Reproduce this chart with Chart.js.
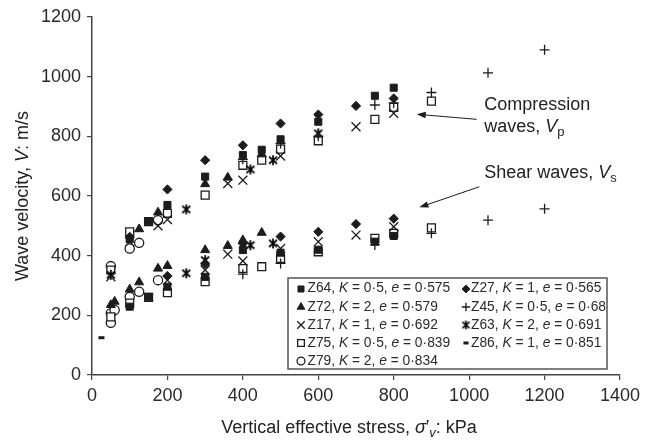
<!DOCTYPE html>
<html>
<head>
<meta charset="utf-8">
<script src="https://cdn.jsdelivr.net/npm/chart.js@4.4.1/dist/chart.umd.min.js"></script>
<style>
  html, body { margin: 0; padding: 0; background: #fff; }
  #wrap { width: 658px; height: 441px; }
</style>
</head>
<body>
<div id="wrap"><canvas id="c" width="658" height="441"></canvas></div>
<script>
// ---------------- DATA (stress kPa, velocity m/s) ----------------
const xTicks = [0, 200, 400, 600, 800, 1000, 1200, 1400];
const yTicks = [0, 200, 400, 600, 800, 1000, 1200];

const names   = ['Z64', 'Z27', 'Z72', 'Z45', 'Z17', 'Z63', 'Z75', 'Z86', 'Z79'];
const kValues = ['0·5', '1', '2', '0·5', '1', '2', '0·5', '1', '2'];
const eValues = ['0·575', '0·565', '0·579', '0·68', '0·692', '0·691', '0·839', '0·851', '0·834'];

const Z64 = [[100,455],[150,516],[200,570],[300,665],[400,737],[450,755],[500,790],[600,849],[750,936],[800,963],
             [100,229],[150,262],[200,296],[300,329],[400,419],[500,410],[600,420],[750,447],[800,466]];
const Z27 = [[100,463],[200,622],[300,720],[400,770],[500,843],[600,873],[700,902],[800,927],
             [200,332],[300,372],[400,441],[500,464],[600,480],[700,506],[800,524]];
const Z72 = [[125,489],[175,545],[300,640],[360,662],[450,740],
             [50,235],[60,246],[100,287],[125,311],[175,357],[200,366],[300,419],[360,433],[400,452],[450,477]];
const Z45 = [[400,723],[500,776],[600,800],[750,905],[800,912],[900,947],[1050,1013],[1200,1090],
             [400,338],[500,374],[750,436],[900,475],[1050,519],[1200,557]];
const Z17 = [[50,329],[100,446],[175,500],[200,521],[360,642],[400,653],[500,734],[700,832],[800,877],
             [200,318],[300,352],[360,405],[400,382],[500,424],[600,447],[700,469],[800,497]];
const Z63 = [[50,336],[250,555],[420,689],[480,720],[600,810],
             [250,341],[300,385],[420,435],[480,441]];
const Z75 = [[50,352],[100,480],[150,514],[200,542],[300,603],[400,703],[450,720],[500,757],[600,785],[750,857],[800,897],[900,918],
             [50,195],[100,241],[150,260],[200,276],[300,313],[400,357],[450,363],[500,391],[600,413],[750,458],[800,475],[900,493]];
const Z86 = [[25,125]];
const Z79 = [[50,365],[100,424],[125,443],[175,519],
             [50,175],[50,207],[60,218],[100,262],[125,279],[175,318]];

// annotation anchors in data units
const compArrow  = [[1020, 857], [861, 874]];
const shearArrow = [[1027, 631], [868, 562]];
const compLabel  = [1040, 905, 831];
const shearLabel = [1040, 677];

// ---------------- STYLES ----------------
const INK = '#1c1c1c';
const FONT = '"Liberation Sans", Arial, sans-serif';

// six-armed asterisk marker (× plus vertical stroke)
function makeAsterisk(size, lw) {
  const c = document.createElement('canvas');
  c.width = size; c.height = size;
  const g = c.getContext('2d');
  const m = size / 2, r = size / 2 - 1;
  g.strokeStyle = '#000'; g.lineWidth = lw; g.lineCap = 'butt';
  g.beginPath();
  g.moveTo(m - r * 0.8, m - r * 0.7); g.lineTo(m + r * 0.8, m + r * 0.7);
  g.moveTo(m + r * 0.8, m - r * 0.7); g.lineTo(m - r * 0.8, m + r * 0.7);
  g.moveTo(m, m - r); g.lineTo(m, m + r);
  g.stroke();
  return c;
}
const asterisk = makeAsterisk(12, 1.7);
const asteriskSmall = makeAsterisk(11, 1.6);

const seriesData = [Z64, Z27, Z72, Z45, Z17, Z63, Z75, Z86, Z79];
const styles = [
  { ps: 'rect',     r: 5,   fill: true,  bw: 1 },
  { ps: 'rectRot',  r: 4.6, fill: true,  bw: 1 },
  { ps: 'triangle', r: 5.2, fill: true,  bw: 1 },
  { ps: 'cross',    r: 5,   fill: false, bw: 1.3 },
  { ps: 'crossRot', r: 6.3, fill: false, bw: 1.3 },
  { ps: asterisk,   r: 6,   fill: false, bw: 1.2 },
  { ps: 'rect',     r: 5.6, fill: false, bw: 1.3 },
  { ps: 'line',     r: 3,   fill: false, bw: 3 },
  { ps: 'circle',   r: 4.6, fill: false, bw: 1.3 }
];

const datasets = names.map((n, i) => ({
  label: n,
  data: seriesData[i].map(p => ({ x: p[0], y: p[1] })),
  showLine: false,
  pointStyle: styles[i].ps,
  pointRadius: styles[i].r,
  pointBorderWidth: styles[i].bw,
  borderColor: INK,
  backgroundColor: styles[i].fill ? INK : '#fff',
  order: i
}));

// rich text helper
function richWidth(ctx, parts, size) {
  let w = 0;
  parts.forEach(p => {
    const s = p.sub ? size * 0.72 : size;
    ctx.font = (p.it ? 'italic ' : '') + s + 'px ' + FONT;
    w += ctx.measureText(p.t).width;
  });
  return w;
}
function drawRich(ctx, parts, x, y, size, color) {
  ctx.save();
  ctx.fillStyle = color;
  ctx.textBaseline = 'middle';
  ctx.textAlign = 'left';
  let cx = x;
  parts.forEach(p => {
    const s = p.sub ? size * 0.72 : size;
    ctx.font = (p.it ? 'italic ' : '') + s + 'px ' + FONT;
    ctx.fillText(p.t, cx, p.sub ? y + size * 0.3 : y);
    cx += ctx.measureText(p.t).width;
  });
  ctx.restore();
}
function arrow(ctx, x1, y1, x2, y2) {
  const a = Math.atan2(y2 - y1, x2 - x1);
  const L = 9, W = 3.2;
  ctx.save();
  ctx.strokeStyle = INK; ctx.fillStyle = INK; ctx.lineWidth = 1;
  ctx.beginPath();
  ctx.moveTo(x1, y1);
  ctx.lineTo(x2 - Math.cos(a) * L * 0.8, y2 - Math.sin(a) * L * 0.8);
  ctx.stroke();
  ctx.beginPath();
  ctx.moveTo(x2, y2);
  ctx.lineTo(x2 - Math.cos(a) * L + Math.sin(a) * W, y2 - Math.sin(a) * L - Math.cos(a) * W);
  ctx.lineTo(x2 - Math.cos(a) * L - Math.sin(a) * W, y2 - Math.sin(a) * L + Math.cos(a) * W);
  ctx.closePath();
  ctx.fill();
  ctx.restore();
}

const decor = {
  id: 'decor',
  afterDraw(chart) {
    const ctx = chart.ctx;
    const xs = chart.scales.x, ys = chart.scales.y, ca = chart.chartArea;
    const P = (v) => [xs.getPixelForValue(v[0]), ys.getPixelForValue(v[1])];

    // axis titles
    const xt = [{ t: 'Vertical effective stress, ' }, { t: 'σ', it: true }, { t: '′' }, { t: 'v', it: true, sub: true }, { t: ': kPa' }];
    const xw = richWidth(ctx, xt, 18);
    drawRich(ctx, xt, 349 - xw / 2, 428, 18, '#222');
    const yt = [{ t: 'Wave velocity, ' }, { t: 'V', it: true }, { t: ': m/s' }];
    const yw = richWidth(ctx, yt, 18);
    ctx.save();
    ctx.translate(23, (ca.top + ca.bottom) / 2);
    ctx.rotate(-Math.PI / 2);
    drawRich(ctx, yt, -yw / 2, 0, 18, '#222');
    ctx.restore();

    // annotations
    const cl = P([compLabel[0], compLabel[1]]);
    const cl2 = ys.getPixelForValue(compLabel[2]);
    drawRich(ctx, [{ t: 'Compression' }], cl[0], cl[1], 18, '#222');
    drawRich(ctx, [{ t: 'waves, ' }, { t: 'V', it: true }, { t: 'p', sub: true }], cl[0], cl2, 18, '#222');
    const sl = P(shearLabel);
    drawRich(ctx, [{ t: 'Shear waves, ' }, { t: 'V', it: true }, { t: 's', sub: true }], sl[0], sl[1], 18, '#222');
    let a = P(compArrow[0]), b = P(compArrow[1]);
    arrow(ctx, a[0], a[1], b[0], b[1]);
    a = P(shearArrow[0]); b = P(shearArrow[1]);
    arrow(ctx, a[0], a[1], b[0], b[1]);

    // legend box
    const bx = 288, by = 278, bw = 319, bh = 91;
    ctx.save();
    ctx.fillStyle = '#fff';
    ctx.fillRect(bx, by, bw, bh);
    ctx.strokeStyle = '#555';
    ctx.lineWidth = 1.5;
    ctx.strokeRect(bx, by, bw, bh);
    ctx.restore();
    const colMarker = [301, 466], colText = [307.5, 471];
    const rowY = (r) => 288.5 + r * 18.2;
    const drawPoint = Chart.helpers && Chart.helpers.drawPoint;
    chart.data.datasets.forEach((ds, i) => {
      const col = i % 2, row = Math.floor(i / 2);
      const y = rowY(row);
      ctx.save();
      ctx.strokeStyle = ds.borderColor;
      ctx.fillStyle = ds.backgroundColor;
      ctx.lineWidth = ds.pointBorderWidth;
      const ps = ds.pointStyle === asterisk ? asteriskSmall : ds.pointStyle;
      if (drawPoint) {
        drawPoint(ctx, { pointStyle: ps, rotation: 0, radius: ds.pointRadius * 0.85, borderWidth: ds.pointBorderWidth }, Math.round(colMarker[col]), Math.round(y));
      }
      ctx.restore();
      drawRich(ctx, [{ t: names[i] + ', ' }, { t: 'K', it: true }, { t: ' = ' + kValues[i] + ', ' }, { t: 'e', it: true }, { t: ' = ' + eValues[i] }],
        colText[col], y, 13.8, '#2a2a2a');
    });
  }
};

new Chart(document.getElementById('c'), {
  type: 'scatter',
  data: { datasets },
  options: {
    responsive: false,
    animation: false,
    events: [],
    layout: { padding: { top: 17, right: 38, left: 0, bottom: 0 } },
    plugins: { legend: { display: false }, tooltip: { enabled: false } },
    scales: {
      x: {
        type: 'linear', min: xTicks[0], max: xTicks[xTicks.length - 1],
        afterBuildTicks: (s) => { s.ticks = xTicks.map(v => ({ value: v })); },
        ticks: { font: { size: 18, family: FONT }, color: '#2a2a2a', padding: 5, maxRotation: 0, autoSkip: false,
                 callback: (v) => String(v) },
        grid: { drawOnChartArea: false, drawTicks: true, tickLength: 5, color: '#444', lineWidth: 1.2 },
        border: { color: '#444', width: 1.5 },
        afterFit: (s) => { s.height = 66; }
      },
      y: {
        type: 'linear', min: yTicks[0], max: yTicks[yTicks.length - 1],
        afterBuildTicks: (s) => { s.ticks = yTicks.map(v => ({ value: v })); },
        ticks: { font: { size: 18, family: FONT }, color: '#2a2a2a', padding: 6, autoSkip: false,
                 callback: (v) => String(v) },
        grid: { drawOnChartArea: false, drawTicks: true, tickLength: 5, color: '#444', lineWidth: 1.2 },
        border: { color: '#444', width: 1.5 },
        afterFit: (s) => { s.width = 92; }
      }
    }
  },
  plugins: [decor]
});
</script>
</body>
</html>
